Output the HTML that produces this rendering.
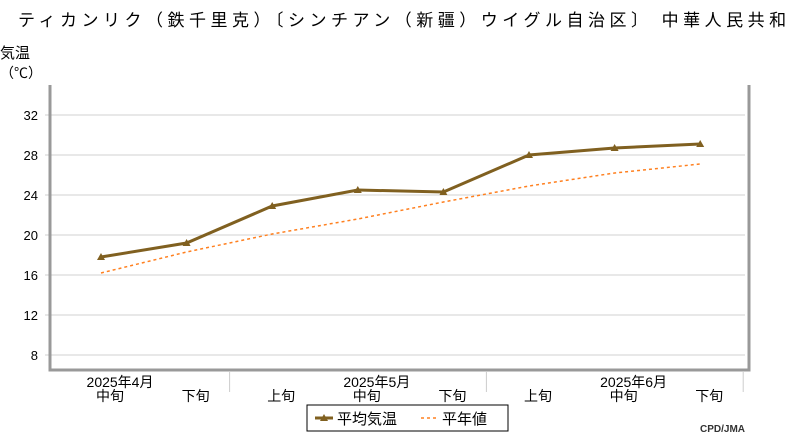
<!DOCTYPE html>
<html><head><meta charset="utf-8"><style>
body{margin:0;background:#fff;width:800px;height:440px;overflow:hidden;font-family:"Liberation Sans","Noto Sans CJK JP",sans-serif}
</style></head><body>
<svg width="800" height="440" xmlns="http://www.w3.org/2000/svg" font-family="Liberation Sans, Noto Sans CJK JP, sans-serif">
<text x="18" y="26" font-size="17" letter-spacing="4.5" fill="#000">ティカンリク（鉄千里克）〔シンチアン（新疆）ウイグル自治区〕 中華人民共和</text>
<text x="0" y="58" font-size="15" fill="#000">気温</text>
<text x="0" y="78" font-size="14" fill="#000">（℃）</text>
<g id="grid"></g>
<g id="yt"></g>
<path d="M50 85 L50 370 L749 370 L749 85" fill="none" stroke="#999" stroke-width="3"/>
<g id="xt"></g>
<g id="series"></g>
<g>
<rect x="307" y="405" width="201" height="26" fill="#fff" stroke="#000"/>
<line x1="315" y1="418" x2="333" y2="418" stroke="#806020" stroke-width="3"/>
<path d="M320 421 L324 414 L328 421 Z" fill="#806020"/>
<text x="337" y="424" font-size="15">平均気温</text>
<line x1="421" y1="418" x2="437" y2="418" stroke="#ff8020" stroke-width="1.5" stroke-dasharray="3,3"/>
<text x="442" y="424" font-size="15">平年値</text>
</g>
<text x="700" y="432" font-size="10" font-weight="bold" fill="#333">CPD/JMA</text>
</svg>
<script>
const cats=["中旬","下旬","上旬","中旬","下旬","上旬","中旬","下旬"];
const months=["2025年4月","2025年5月","2025年6月"];
const avg=[17.8,19.2,22.9,24.5,24.3,28.0,28.7,29.1];
const normal=[16.2,18.3,20.1,21.6,23.3,24.9,26.2,27.1];
const yTicks=[8,12,16,20,24,28,32];
const NS="http://www.w3.org/2000/svg";
const X=i=>101+i*85.6;
const Y=v=>355-(v-8)*10;
function mk(t,a,p){const e=document.createElementNS(NS,t);for(const k in a)e.setAttribute(k,a[k]);p.appendChild(e);return e;}
const g=document.getElementById('grid'),yt=document.getElementById('yt'),xt=document.getElementById('xt'),s=document.getElementById('series');
yTicks.forEach(v=>{
const l=mk('line',{x1:45,x2:745,y1:Y(v),y2:Y(v),stroke:'#d0d0d0'},g);


const t=mk('text',{x:38,y:Y(v)+5,'font-size':13,'text-anchor':'end'},yt);t.textContent=v;


});
cats.forEach((c,i)=>{
const t=mk('text',{x:X(i)+9,y:401,'font-size':14,'text-anchor':'middle'},xt);t.textContent=c;


});
months.forEach((m,j)=>{
const t=mk('text',{x:X(j*3)+19,y:387,'font-size':14,'text-anchor':'middle'},xt);t.textContent=m;


});
[1,4,7].forEach(i=>{const l=mk('line',{x1:X(i)+43,x2:X(i)+43,y1:372,y2:392,stroke:'#ccc'},xt);

});
const np=mk('polyline',{points:normal.map((v,i)=>X(i)+','+Y(v)).join(' '),fill:'none',stroke:'#ff8020','stroke-width':1.5,'stroke-dasharray':'3,3'},s);


const ap=mk('polyline',{points:avg.map((v,i)=>X(i)+','+Y(v)).join(' '),fill:'none',stroke:'#806020','stroke-width':3},s);


avg.forEach((v,i)=>{const x=X(i),y=Y(v);
const p=mk('path',{d:`M${x-4} ${y+3} L${x} ${y-4} L${x+4} ${y+3} Z`,fill:'#806020'},s);

});
</script>
</body></html>
